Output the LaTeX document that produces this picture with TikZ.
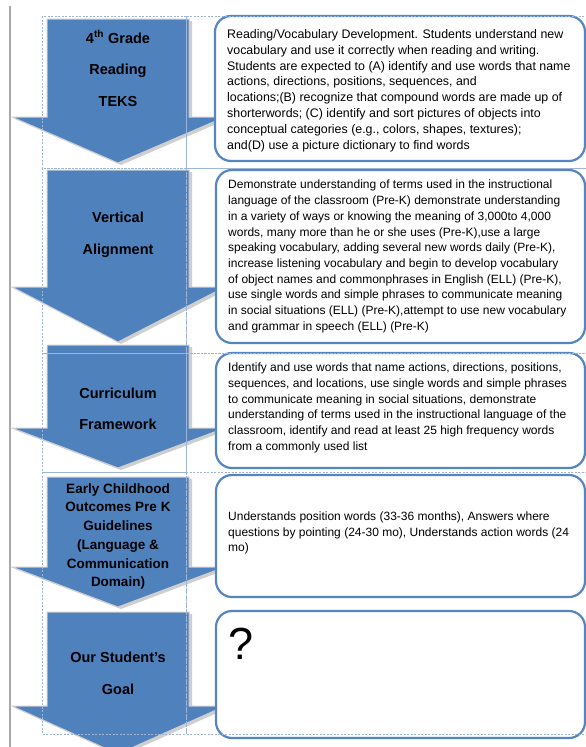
\documentclass[tikz,border=0pt]{standalone}
\usepackage{fontspec}
\setmainfont{Liberation Sans}
\definecolor{ablue}{HTML}{4F81BD}
\definecolor{bblue}{HTML}{5686C2}
\definecolor{dblue}{HTML}{9DB5D8}
\definecolor{shad}{HTML}{CFCFCF}
\definecolor{lgray}{HTML}{A8A8A8}
\tikzset{
  arrowblk/.style={fill=ablue, draw=shad, line width=1pt},
  arrowshad/.style={fill=shad, draw=none},
  frame/.style={draw=dblue, dash pattern=on 2pt off 1.5pt, line width=0.7pt},
  tbox/.style={draw=bblue, line width=2.2pt, rounded corners=16pt, fill=white, inner sep=0pt},
  lbl/.style={font=\fontsize{14.5}{31.5}\selectfont\bfseries, align=center, inner sep=0pt},
  lblsmall/.style={font=\fontsize{13.5}{18.7}\selectfont\bfseries, align=center, inner sep=0pt},
  txt/.style={font=\fontsize{12}{15.7}\selectfont, align=left, anchor=west, inner sep=0pt},
  txtbig/.style={font=\fontsize{12.4}{15.8}\selectfont, align=left, anchor=west, inner sep=0pt},
}
\newcommand{\chevshape}[3]{(47,#1) -- (189,#1) -- (189,#2) -- (225,#2) -- (118,#3) -- (12,#2) -- (47,#2) -- cycle}
\begin{document}
\begin{tikzpicture}[x=1pt,y=-1pt]
\useasboundingbox (0,0) rectangle (586,747);
\fill[white] (0,0) rectangle (586,747);
% left rule
\draw[lgray, line width=2pt] (9.5,6) -- (9.5,747);
% arrows
\foreach \t/\w/\p in {19/117/163, 170/287/342, 345/428/468, 477/567/607, 612/706/754}{
  \fill[arrowshad, xshift=3pt, yshift=-2pt] \chevshape{\t}{\w}{\p};
  \path[arrowblk] \chevshape{\t}{\w}{\p};
}
% text boxes
\node[tbox, minimum width=370pt, minimum height=145pt] (b1) at (400,88.5) {};
\node[tbox, minimum width=369pt, minimum height=173pt] (b2) at (400.5,256.5) {};
\node[tbox, minimum width=369pt, minimum height=115pt] (b3) at (400.5,410.5) {};
\node[tbox, minimum width=369pt, minimum height=122pt] (b4) at (400.5,536) {};
\node[tbox, minimum width=369pt, minimum height=127pt] (b5) at (400.5,674.5) {};
% arrow labels
\node[lbl] (a1) at (118,68.5) {4\textsuperscript{th} Grade\\Reading\\TEKS};
\node[lbl] (a2) at (118,235) {Vertical\\Alignment};
\node[lbl] (a3) at (118,409) {Curriculum\\Framework};
\node[lblsmall] (a4) at (118,536.5) {Early Childhood\\Outcomes Pre K\\Guidelines\\(Language \&\\Communication\\Domain)};
\node[lbl] (a5) at (118,673.5) {Our Student's\\Goal};
% box texts
\node[txtbig] (t1) at (227,90.5) {Reading/Vocabulary Development. Students understand new\\
vocabulary and use it correctly when reading and writing.\\
Students are expected to (A) identify and use words that name\\
actions, directions, positions, sequences, and\\
locations;(B) recognize that compound words are made up of\\
shorterwords; (C) identify and sort pictures of objects into\\
conceptual categories (e.g., colors, shapes, textures);\\
and(D) use a picture dictionary to find words};
\node[txt] (t2) at (228,256.5) {Demonstrate understanding of terms used in the instructional\\
language of the classroom (Pre-K) demonstrate understanding\\
in a variety of ways or knowing the meaning of 3,000to 4,000\\
words, many more than he or she uses (Pre-K),use a large\\
speaking vocabulary, adding several new words daily (Pre-K),\\
increase listening vocabulary and begin to develop vocabulary\\
of object names and commonphrases in English (ELL) (Pre-K),\\
use single words and simple phrases to communicate meaning\\
in social situations (ELL) (Pre-K),attempt to use new vocabulary\\
and grammar in speech (ELL) (Pre-K)};
\node[txt] (t3) at (228,408) {Identify and use words that name actions, directions, positions,\\
sequences, and locations, use single words and simple phrases\\
to communicate meaning in social situations, demonstrate\\
understanding of terms used in the instructional language of the\\
classroom, identify and read at least 25 high frequency words\\
from a commonly used list};
\node[txt] (t4) at (228,533) {Understands position words (33-36 months), Answers where\\
questions by pointing (24-30 mo), Understands action words (24\\
mo)};
\node[font=\fontsize{45}{45}\selectfont, anchor=north west, inner sep=0pt] (q) at (228,628) {?};
% dashed layout frames
\draw[frame] (42,16) rectangle (186,168);
\draw[frame] (186,16) rectangle (590,168);
\draw[frame] (42,168) rectangle (186,353);
\draw[frame] (186,168) rectangle (590,353);
\draw[frame] (42,353) rectangle (186,472);
\draw[frame] (186,353) rectangle (590,472);
\draw[frame] (42,472) rectangle (186,734);
\draw[frame] (186,472) rectangle (590,734);
\end{tikzpicture}
\end{document}
